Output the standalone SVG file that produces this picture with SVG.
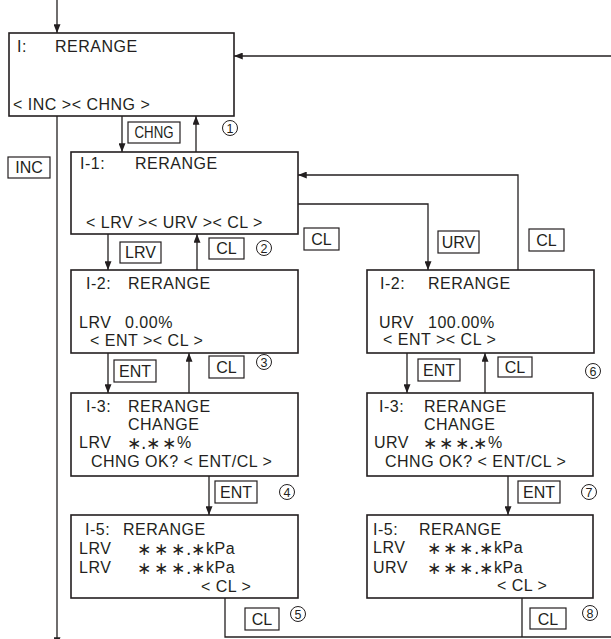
<svg xmlns="http://www.w3.org/2000/svg" width="611" height="639" viewBox="0 0 611 639">
<style>
.box{fill:#fff;stroke:#231f20;stroke-width:1.6}
.lbl{fill:#fff;stroke:#231f20;stroke-width:1.2}
.ln{fill:none;stroke:#231f20;stroke-width:1.3}
.t{font-family:"Liberation Sans","DejaVu Sans",sans-serif;font-size:16px;letter-spacing:0.5px;fill:#231f20}
.a{font-family:"DejaVu Sans","Liberation Sans",sans-serif;font-size:17px;fill:#231f20}
.lt{font-family:"Liberation Sans","DejaVu Sans",sans-serif;font-size:16px;fill:#231f20;text-anchor:middle}
.cn{font-family:"Liberation Sans","DejaVu Sans",sans-serif;font-size:12.5px;fill:#231f20;text-anchor:middle}
.c{fill:#fff;stroke:#231f20;stroke-width:1}
</style>
<defs>
<marker id="ah" viewBox="0 0 10 8" refX="10" refY="4" markerWidth="9" markerHeight="7" markerUnits="userSpaceOnUse" orient="auto">
<path d="M0,0 L10,4 L0,8 Z" fill="#231f20"/>
</marker>
</defs>
<g id="connectors">
<path class="ln" d="M57,0 V33" marker-end="url(#ah)"/>
<path class="ln" d="M611,56 H234" marker-end="url(#ah)"/>
<path class="ln" d="M57,116 V646" marker-end="url(#ah)"/>
<path class="ln" d="M122,116 V152" marker-end="url(#ah)"/>
<path class="ln" d="M196,152 V116" marker-end="url(#ah)"/>
<path class="ln" d="M108,234 V270" marker-end="url(#ah)"/>
<path class="ln" d="M197,270 V234" marker-end="url(#ah)"/>
<path class="ln" d="M298,204 H428 V270" marker-end="url(#ah)"/>
<path class="ln" d="M518,270 V175 H298" marker-end="url(#ah)"/>
<path class="ln" d="M108,353 V393" marker-end="url(#ah)"/>
<path class="ln" d="M189,393 V353" marker-end="url(#ah)"/>
<path class="ln" d="M407,353 V393" marker-end="url(#ah)"/>
<path class="ln" d="M485,393 V353" marker-end="url(#ah)"/>
<path class="ln" d="M209,476 V515" marker-end="url(#ah)"/>
<path class="ln" d="M508,476 V515" marker-end="url(#ah)"/>
<path class="ln" d="M225,598 V637 H611"/>
<path class="ln" d="M522,598 V637"/>
</g>
<g id="labels">
<rect class="lbl" x="128" y="122" width="52" height="21"/><text class="lt" x="154" y="138" textLength="39" lengthAdjust="spacingAndGlyphs">CHNG</text>
<rect class="lbl" x="8" y="157" width="42" height="21"/><text class="lt" x="29" y="173">INC</text>
<rect class="lbl" x="120" y="242" width="41" height="21"/><text class="lt" x="140.5" y="258">LRV</text>
<rect class="lbl" x="209" y="238" width="35" height="21"/><text class="lt" x="226.5" y="254">CL</text>
<rect class="lbl" x="304" y="228" width="35" height="22"/><text class="lt" x="321.5" y="245">CL</text>
<rect class="lbl" x="438" y="231" width="41" height="22"/><text class="lt" x="458.5" y="248">URV</text>
<rect class="lbl" x="529" y="229" width="35" height="22"/><text class="lt" x="546.5" y="246">CL</text>
<rect class="lbl" x="114" y="360" width="42" height="22"/><text class="lt" x="135" y="377">ENT</text>
<rect class="lbl" x="209" y="356" width="35" height="22"/><text class="lt" x="226.5" y="373">CL</text>
<rect class="lbl" x="418" y="359" width="42" height="22"/><text class="lt" x="439" y="376">ENT</text>
<rect class="lbl" x="498" y="357" width="34" height="20"/><text class="lt" x="515" y="373">CL</text>
<rect class="lbl" x="215" y="481" width="42" height="22"/><text class="lt" x="236" y="498">ENT</text>
<rect class="lbl" x="518" y="481" width="42" height="22"/><text class="lt" x="539" y="498">ENT</text>
<rect class="lbl" x="245" y="608" width="34" height="22"/><text class="lt" x="262" y="625">CL</text>
<rect class="lbl" x="530" y="608" width="36" height="21"/><text class="lt" x="548" y="625">CL</text>
</g>
<g id="steps">
<circle class="c" cx="230" cy="128" r="7.5"/><text class="cn" x="230" y="132.5">1</text>
<circle class="c" cx="264" cy="248" r="7.5"/><text class="cn" x="264" y="252.5">2</text>
<circle class="c" cx="264" cy="362" r="7.5"/><text class="cn" x="264" y="366.5">3</text>
<circle class="c" cx="287" cy="492" r="7.5"/><text class="cn" x="287" y="496.5">4</text>
<circle class="c" cx="298" cy="614" r="7.5"/><text class="cn" x="298" y="618.5">5</text>
<circle class="c" cx="593" cy="371" r="7.5"/><text class="cn" x="593" y="375.5">6</text>
<circle class="c" cx="589" cy="492" r="7.5"/><text class="cn" x="589" y="496.5">7</text>
<circle class="c" cx="590" cy="613" r="7.5"/><text class="cn" x="590" y="617.5">8</text>
</g>
<g id="node-I">
<rect class="box" x="9" y="33" width="225" height="83"/>
<text class="t" x="17" y="52">I:</text><text class="t" x="55" y="52">RERANGE</text>
<text class="t" x="13" y="110">&lt; INC &gt;&lt; CHNG &gt;</text>
</g>
<g id="node-I1">
<rect class="box" x="71" y="152" width="227" height="82"/>
<text class="t" x="80" y="169">I-1:</text><text class="t" x="135" y="169">RERANGE</text>
<text class="t" x="86" y="228">&lt; LRV &gt;&lt; URV &gt;&lt; CL &gt;</text>
</g>
<g id="node-I2-LRV">
<rect class="box" x="71" y="270" width="227" height="83"/>
<text class="t" x="86" y="289">I-2:</text><text class="t" x="128" y="289">RERANGE</text>
<text class="t" x="79" y="328">LRV</text><text class="t" x="125" y="328">0.00%</text>
<text class="t" x="90" y="346">&lt; ENT &gt;&lt; CL &gt;</text>
</g>
<g id="node-I2-URV">
<rect class="box" x="367" y="270" width="227" height="83"/>
<text class="t" x="380" y="289">I-2:</text><text class="t" x="428" y="289">RERANGE</text>
<text class="t" x="379" y="328">URV</text><text class="t" x="428" y="328">100.00%</text>
<text class="t" x="383" y="345">&lt; ENT &gt;&lt; CL &gt;</text>
</g>
<g id="node-I3-LRV">
<rect class="box" x="71" y="393" width="227" height="83"/>
<text class="t" x="86" y="412">I-3:</text><text class="t" x="128" y="412">RERANGE</text>
<text class="t" x="128" y="430">CHANGE</text>
<text class="t" x="79" y="448">LRV</text>
<text class="a" x="127 141 146 162" y="449">∗.∗∗</text><text class="t" x="177" y="448">%</text>
<text class="t" x="91" y="467">CHNG OK? &lt; ENT/CL &gt;</text>
</g>
<g id="node-I3-URV">
<rect class="box" x="367" y="393" width="226" height="83"/>
<text class="t" x="379" y="412">I-3:</text><text class="t" x="424" y="412">RERANGE</text>
<text class="t" x="424" y="430">CHANGE</text>
<text class="t" x="374" y="448">URV</text>
<text class="a" x="423 439 455 469 473" y="449">∗∗∗.∗</text><text class="t" x="488" y="448">%</text>
<text class="t" x="385" y="467">CHNG OK? &lt; ENT/CL &gt;</text>
</g>
<g id="node-I5-LRV">
<rect class="box" x="71" y="515" width="227" height="83"/>
<text class="t" x="85" y="535">I-5:</text><text class="t" x="123" y="535">RERANGE</text>
<text class="t" x="79" y="554">LRV</text>
<text class="a" x="137 154 171 186 191" y="555">∗∗∗.∗</text><text class="t" x="206" y="554">kPa</text>
<text class="t" x="79" y="573">LRV</text>
<text class="a" x="137 154 171 186 191" y="574">∗∗∗.∗</text><text class="t" x="206" y="573">kPa</text>
<text class="t" x="201" y="592">&lt; CL &gt;</text>
</g>
<g id="node-I5-URV">
<rect class="box" x="367" y="515" width="226" height="83"/>
<text class="t" x="373" y="535">I-5:</text><text class="t" x="419" y="535">RERANGE</text>
<text class="t" x="373" y="553">LRV</text>
<text class="a" x="427 443 459 474 479" y="554">∗∗∗.∗</text><text class="t" x="494" y="553">kPa</text>
<text class="t" x="373" y="573">URV</text>
<text class="a" x="427 443 459 474 479" y="574">∗∗∗.∗</text><text class="t" x="494" y="573">kPa</text>
<text class="t" x="497" y="591">&lt; CL &gt;</text>
</g>
</svg>
